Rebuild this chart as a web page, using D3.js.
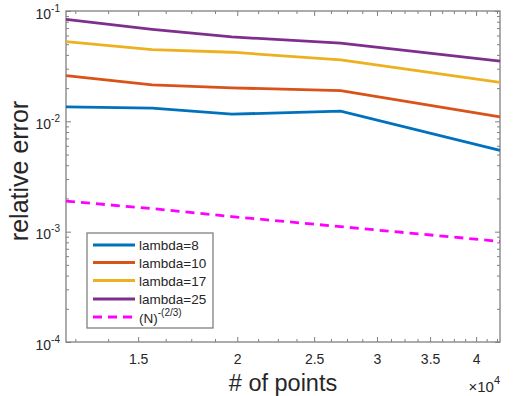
<!DOCTYPE html>
<html>
<head>
<meta charset="utf-8">
<script src="https://cdn.jsdelivr.net/npm/d3@7"></script>
<style>
  body { margin: 0; background: #fff; }
  text { font-family: "Liberation Sans", Arial, sans-serif; }
</style>
</head>
<body>
<div id="my_dataviz"></div>
<script>
// Data: number of points N and relative error per lambda
var nPoints = [12167, 15625, 19683, 27000, 42875]
var lambda8 = [0.01352, 0.01315, 0.01161, 0.01236, 0.00545]
var lambda10 = [0.0260, 0.02138, 0.0201, 0.0190, 0.0110]
var lambda17 = [0.0527, 0.0447, 0.0423, 0.0361, 0.0226]
var lambda25 = [0.0841, 0.0683, 0.0582, 0.0511, 0.0351]
var refLine = [0.00189, 0.00162, 0.00137, 0.00111, 0.000816] // (N)^-(2/3)
var seriesNames = ["lambda=8", "lambda=10", "lambda=17", "lambda=25"]
var xTickVals = [15000, 20000, 25000, 30000, 35000, 40000]
var xTickLabels = ["1.5", "2", "2.5", "3", "3.5", "4"]
var yTickVals = [1e-4, 1e-3, 1e-2, 1e-1]
var yTickExps = ["-4", "-3", "-2", "-1"]

var colors = ["#0072BD", "#D95319", "#EDB120", "#7E2F8E"]

// Plot area (not "top": that name is taken by window.top)
var plot = { left: 66, right: 500, top: 11, bottom: 342 }

var svg = d3.select("#my_dataviz")
  .append("svg")
  .attr("width", 519)
  .attr("height", 396)

var x = d3.scaleLog()
  .domain([12167, 42875])
  .range([plot.left, plot.right])

var y = d3.scaleLog()
  .domain([1e-4, 1e-1])
  .range([plot.bottom, plot.top])

// minor ticks
var xMinor = []
for (var v = 12500; v <= 42500; v += 1250) {
  if (v % 5000 != 0) xMinor.push(v)
}
var yMinor = []
;[1e-4, 1e-3, 1e-2].forEach(function(d) {
  for (var k = 2; k <= 9; k++) yMinor.push(k * d)
})

var axisColor = "#808080"
var textColor = "#262626"

function styleAxis(g) {
  g.select(".domain").remove()
  g.selectAll(".tick line").attr("stroke", axisColor)
  g.selectAll(".tick text").attr("fill", textColor)
}

// X axes (bottom + top), ticks pointing inside
svg.append("g")
  .attr("transform", "translate(0," + plot.bottom + ")")
  .call(d3.axisBottom(x).tickValues(xTickVals).tickSizeInner(-5).tickSizeOuter(0).tickPadding(12)
    .tickFormat(function(d, i) { return xTickLabels[i] }))
  .call(styleAxis)
  .selectAll("text").style("font-size", "14px").style("font-family", "Liberation Sans, Arial, sans-serif")
svg.append("g")
  .attr("transform", "translate(0," + plot.bottom + ")")
  .call(d3.axisBottom(x).tickValues(xMinor).tickSizeInner(-3).tickSizeOuter(0).tickFormat(""))
  .call(styleAxis)
svg.append("g")
  .attr("transform", "translate(0," + plot.top + ")")
  .call(d3.axisTop(x).tickValues(xTickVals).tickSizeInner(-5).tickSizeOuter(0).tickFormat(""))
  .call(styleAxis)
svg.append("g")
  .attr("transform", "translate(0," + plot.top + ")")
  .call(d3.axisTop(x).tickValues(xMinor).tickSizeInner(-3).tickSizeOuter(0).tickFormat(""))
  .call(styleAxis)

// Y axes (left + right)
var yLeft = svg.append("g")
  .attr("transform", "translate(" + plot.left + ",0)")
  .call(d3.axisLeft(y).tickValues(yTickVals).tickSizeInner(-5).tickSizeOuter(0).tickFormat(""))
  .call(styleAxis)
svg.append("g")
  .attr("transform", "translate(" + plot.left + ",0)")
  .call(d3.axisLeft(y).tickValues(yMinor).tickSizeInner(-3).tickSizeOuter(0).tickFormat(""))
  .call(styleAxis)
svg.append("g")
  .attr("transform", "translate(" + plot.right + ",0)")
  .call(d3.axisRight(y).tickValues(yTickVals).tickSizeInner(-5).tickSizeOuter(0).tickFormat(""))
  .call(styleAxis)
svg.append("g")
  .attr("transform", "translate(" + plot.right + ",0)")
  .call(d3.axisRight(y).tickValues(yMinor).tickSizeInner(-3).tickSizeOuter(0).tickFormat(""))
  .call(styleAxis)

// 10^n labels on the y axis
yLeft.selectAll(".tick").each(function(d, i) {
  var t = d3.select(this).append("text")
    .attr("x", -6)
    .attr("y", 7)
    .attr("text-anchor", "end")
    .attr("fill", textColor)
    .style("font-size", "14px")
    .style("font-family", "Liberation Sans, Arial, sans-serif")
  t.append("tspan").text("10")
  t.append("tspan").attr("dy", -7).style("font-size", "10px").text(yTickExps[i])
})

// box
svg.append("rect")
  .attr("x", plot.left)
  .attr("y", plot.top)
  .attr("width", plot.right - plot.left)
  .attr("height", plot.bottom - plot.top)
  .attr("fill", "none")
  .attr("stroke", axisColor)
  .attr("stroke-width", 1.3)

// Lines
var line = d3.line()
  .x(function(d, i) { return x(nPoints[i]) })
  .y(function(d) { return y(d) })

var allSeries = [lambda8, lambda10, lambda17, lambda25]
svg.selectAll(".series")
  .data(allSeries)
  .enter()
  .append("path")
  .attr("class", "series")
  .attr("d", line)
  .attr("fill", "none")
  .attr("stroke", function(d, i) { return colors[i] })
  .attr("stroke-width", 2.8)

svg.append("path")
  .datum(refLine)
  .attr("d", line)
  .attr("fill", "none")
  .attr("stroke", "#FF00FF")
  .attr("stroke-width", 2.8)
  .attr("stroke-dasharray", "9,6")

// Axis labels
svg.append("text")
  .attr("x", (plot.left + plot.right) / 2)
  .attr("y", 391)
  .attr("text-anchor", "middle")
  .attr("fill", textColor)
  .style("font-size", "23.5px")
  .text("# of points")

svg.append("text")
  .attr("transform", "translate(28,171) rotate(-90)")
  .attr("text-anchor", "middle")
  .attr("fill", textColor)
  .style("font-size", "25px")
  .text("relative error")

var mult = svg.append("text")
  .attr("x", 500)
  .attr("y", 392)
  .attr("text-anchor", "end")
  .attr("fill", textColor)
  .style("font-size", "15px")
mult.append("tspan").text("\u00d710")
mult.append("tspan").attr("dy", -8).style("font-size", "11px").text("4")

// Legend
var legend = svg.append("g")
legend.append("rect")
  .attr("x", 87)
  .attr("y", 233)
  .attr("width", 126)
  .attr("height", 95)
  .attr("fill", "#fff")
  .attr("stroke", axisColor)
  .attr("stroke-width", 1.3)

var legendRows = [245, 262.5, 280.5, 299, 317]
seriesNames.forEach(function(name, i) {
  legend.append("line")
    .attr("x1", 93).attr("x2", 135)
    .attr("y1", legendRows[i]).attr("y2", legendRows[i])
    .attr("stroke", colors[i])
    .attr("stroke-width", 2.8)
  legend.append("text")
    .attr("x", 139)
    .attr("y", legendRows[i] + 5)
    .attr("fill", textColor)
    .style("font-size", "13.5px")
    .text(name)
})
legend.append("line")
  .attr("x1", 93).attr("x2", 135)
  .attr("y1", legendRows[4]).attr("y2", legendRows[4])
  .attr("stroke", "#FF00FF")
  .attr("stroke-width", 2.8)
  .attr("stroke-dasharray", "9,6")
var refText = legend.append("text")
  .attr("x", 139)
  .attr("y", legendRows[4] + 6)
  .attr("fill", textColor)
  .style("font-size", "13.5px")
refText.append("tspan").text("(N)")
refText.append("tspan").attr("dy", -7).style("font-size", "10px").text("-(2/3)")
</script>
</body>
</html>
